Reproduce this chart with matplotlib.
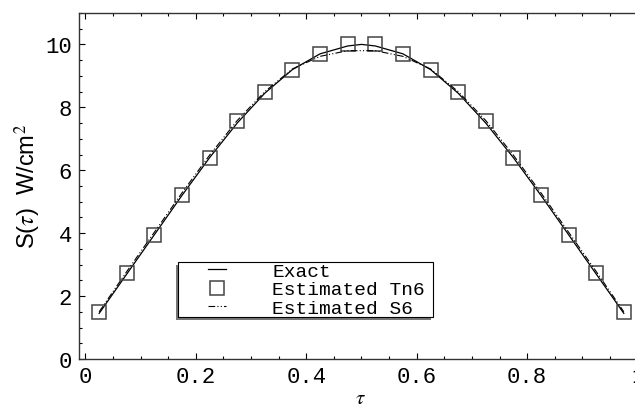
import matplotlib
matplotlib.use("Agg")
import matplotlib.pyplot as plt
import numpy as np
from matplotlib.patches import Rectangle
from matplotlib.ticker import MultipleLocator

# data
tau = [0.025, 0.075, 0.125, 0.175, 0.225, 0.275, 0.325, 0.375, 0.425, 0.475,
       0.525, 0.575, 0.625, 0.675, 0.725, 0.775, 0.825, 0.875, 0.925, 0.975]
tau_line = [0.025, 0.075, 0.125, 0.175, 0.225, 0.275, 0.325, 0.375, 0.425, 0.475, 0.5,
            0.525, 0.575, 0.625, 0.675, 0.725, 0.775, 0.825, 0.875, 0.925, 0.975]
exact = [1.45, 2.7, 3.95, 5.2, 6.4, 7.5, 8.45, 9.2, 9.7, 9.95, 10.0,
         9.95, 9.7, 9.2, 8.45, 7.5, 6.4, 5.2, 3.95, 2.7, 1.45]
tn6 = [1.5, 2.72, 3.95, 5.2, 6.4, 7.55, 8.5, 9.2, 9.7, 10.0,
       10.0, 9.7, 9.2, 8.5, 7.55, 6.4, 5.2, 3.95, 2.72, 1.5]
s6 = [1.5, 2.78, 4.03, 5.28, 6.48, 7.58, 8.5, 9.22, 9.62, 9.8, 9.8,
      9.8, 9.62, 9.22, 8.5, 7.58, 6.48, 5.28, 4.03, 2.78, 1.5]
labels = ['Exact', 'Estimated Tn6', 'Estimated S6']

mono = 'Liberation Mono'
plt.rcParams['mathtext.fontset'] = 'stix'

fig = plt.figure(figsize=(6.35, 4.1), dpi=100)
ax = fig.add_axes([0.1244, 0.122, 0.888, 0.844])

l1, = ax.plot(tau_line, exact, color='black', lw=0.9)
l2, = ax.plot(tau, tn6, ls='none', marker='s', ms=10, mfc='none', mec='#444444', mew=1.1)
l3, = ax.plot(tau_line, s6, color='black', lw=0.8, ls=(0, (6, 2, 1, 2, 1, 2)))

ax.set_xlim(-0.0115, 1.0095)
ax.set_ylim(0, 11)
ax.set_xticks([0, 0.2, 0.4, 0.6, 0.8, 1])
ax.set_xticklabels(['0', '0.2', '0.4', '0.6', '0.8', '1'])
ax.set_yticks([0, 2, 4, 6, 8, 10])
ax.xaxis.set_minor_locator(MultipleLocator(0.05))
ax.yaxis.set_minor_locator(MultipleLocator(0.5))
ax.tick_params(which='both', direction='in', top=True, right=True, width=0.8)
ax.tick_params(which='major', length=4, pad=5)
ax.tick_params(which='minor', length=2)
for lab in ax.get_xticklabels() + ax.get_yticklabels():
    lab.set_fontfamily(mono)
    lab.set_fontsize(16)
for sp in ax.spines.values():
    sp.set_linewidth(1.0)
    sp.set_color('#333333')

ax.set_xlabel(r'$\tau$', fontsize=15, labelpad=0)
ax.set_ylabel(r'S($\tau$)  W/cm$^2$', fontsize=17, labelpad=2, family='Liberation Sans')

# legend box with a shadow on the lower left
bx, by, bw, bh = 0.176, 0.121, 0.452, 0.159
ax.add_patch(Rectangle((bx - 0.004, by - 0.007), bw, bh, transform=ax.transAxes,
                       facecolor='#777777', edgecolor='none', zorder=4))
ax.add_patch(Rectangle((bx, by), bw, bh, transform=ax.transAxes,
                       facecolor='white', edgecolor='black', lw=0.8, zorder=5))
leg = ax.legend([l1, l2, l3], labels, loc='center left',
                bbox_to_anchor=(0.212, by + bh / 2), frameon=False,
                prop={'family': mono, 'size': 14}, handlelength=0.9,
                handletextpad=2.4, labelspacing=0.05, borderpad=0)
leg.set_zorder(6)

fig.savefig('out.png', dpi=100)
